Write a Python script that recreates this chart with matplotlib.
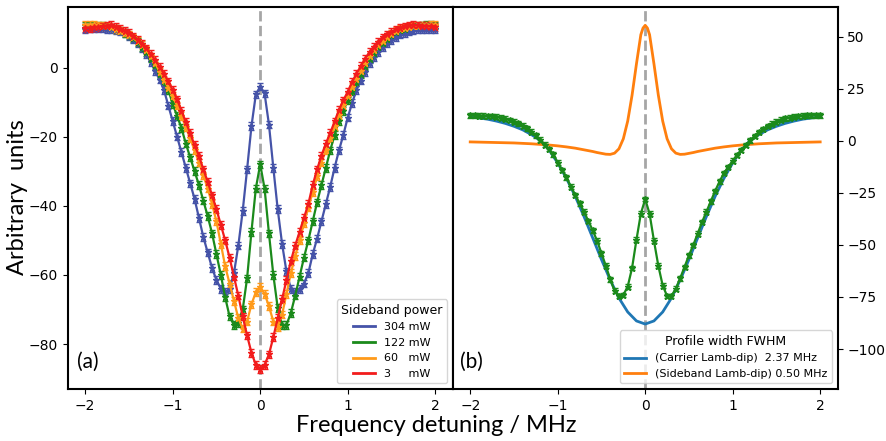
import numpy as np
import matplotlib
matplotlib.use("Agg")
import matplotlib.pyplot as plt
from matplotlib.lines import Line2D

# detuning grid of the measured points (MHz)
detuning = np.linspace(-2, 2, 81)

# measured Lamb-dip profiles for each sideband power (arb. units)
p304 = [11.2, 11.3, 11.3, 11.3, 11.3, 11.2, 11.0, 10.8, 10.4, 9.9,
        9.0, 8.1, 7.0, 5.6, 3.8, 1.5, -1.0, -3.5, -6.5, -11.0,
        -15.5, -20.0, -24.5, -29.0, -33.5, -38.0, -43.5, -49.0, -53.5, -58.0,
        -61.5, -64.0, -65.0, -64.0, -59.5, -51.5, -41.5, -29.5, -17.0, -7.8,
        -5.5,
        -7.5, -16.5, -29.0, -41.0, -51.0, -59.0, -64.0, -65.0, -64.0, -62.5,
        -59.5, -54.0, -49.5, -44.5, -39.5, -34.5, -29.0, -24.0, -19.5, -14.5,
        -10.3, -6.5, -3.8, -1.4, 1.2, 3.0, 4.5, 5.8, 7.0, 8.0,
        8.8, 9.5, 10.0, 10.4, 10.7, 11.0, 11.1, 11.2, 11.2, 11.2]
p122 = [12.2, 12.2, 12.1, 12.1, 12.0, 11.9, 11.6, 11.2, 10.7, 10.0,
        9.3, 8.4, 7.3, 6.0, 4.4, 2.6, 0.6, -1.8, -4.0, -6.5,
        -10.5, -14.0, -17.5, -22.0, -26.0, -30.0, -34.0, -38.5, -43.0, -48.0,
        -54.0, -60.0, -66.5, -72.0, -74.5, -74.0, -70.0, -61.0, -47.5, -35.0,
        -28.0,
        -35.0, -48.0, -60.0, -69.5, -74.5, -74.5, -71.0, -66.0, -60.5, -55.0,
        -50.0, -44.5, -39.0, -34.0, -29.0, -24.0, -19.5, -15.5, -12.5, -9.5,
        -6.8, -4.3, -2.0, 0.3, 2.4, 4.2, 5.8, 7.2, 8.3, 9.3,
        10.2, 10.8, 11.2, 11.6, 11.9, 12.1, 12.2, 12.3, 12.3, 12.2]
p60 = [12.3, 12.3, 12.3, 12.2, 12.1, 11.9, 11.6, 11.2, 10.7, 10.1,
       9.5, 8.7, 7.7, 6.5, 5.0, 3.2, 1.2, -1.2, -3.5, -5.8,
       -8.3, -11.0, -14.0, -17.3, -20.5, -24.0, -27.5, -31.2, -35.0, -39.5,
       -44.5, -51.0, -57.5, -62.5, -67.5, -72.5, -75.5, -73.5, -68.5, -65.0,
       -63.5,
       -65.5, -69.0, -73.5, -75.0, -71.5, -65.5, -59.5, -54.5, -50.0, -45.0,
       -40.5, -36.0, -31.5, -27.5, -24.0, -20.5, -17.0, -13.8, -10.8, -8.2,
       -5.6, -3.2, -1.0, 1.2, 3.2, 5.0, 6.5, 7.8, 8.9, 9.8,
       10.5, 11.1, 11.5, 11.8, 12.0, 12.1, 12.2, 12.2, 12.3, 12.4]
p3 = [11.5, 11.5, 11.6, 11.7, 11.9, 12.1, 12.3, 11.8, 11.2, 10.6,
      9.9, 9.0, 8.0, 6.9, 5.5, 3.9, 2.1, 0.2, -1.8, -4.0,
      -6.5, -9.2, -12.5, -15.8, -19.0, -22.5, -25.5, -29.5, -33.0, -37.0,
      -41.0, -45.5, -50.0, -55.0, -60.5, -66.0, -72.0, -77.5, -82.5, -86.0,
      -87.2,
      -86.0, -83.0, -78.0, -72.5, -67.0, -61.5, -56.0, -51.5, -47.5, -43.5,
      -39.5, -34.0, -29.5, -25.5, -22.0, -19.0, -15.6, -12.3, -9.5, -7.0,
      -4.2, -1.8, 0.4, 2.6, 4.5, 6.0, 7.5, 8.7, 9.6, 10.3,
      11.0, 11.5, 11.9, 12.2, 12.3, 12.2, 12.1, 12.0, 11.9, 11.8]
err = 1.1

# fitted profiles shown in panel (b)
fit_x = np.linspace(-2, 2, 41)
carrier_fit = [11.5, 11.0, 10.4, 9.5, 8.4, 7.0, 5.3, 3.0, 0.2, -4.3,
               -10.6, -18.0, -26.6, -36.3, -46.6, -57.0, -66.8, -75.5, -82.2, -86.5,
               -88.0,
               -86.5, -82.2, -75.5, -66.8, -57.0, -46.6, -36.3, -26.6, -18.0, -10.6,
               -4.3, 0.2, 3.0, 5.3, 7.0, 8.4, 9.5, 10.4, 11.0, 11.5]
side_x = [-2.0, -1.9, -1.8, -1.7, -1.6, -1.5, -1.4, -1.3, -1.2, -1.1, -1.0,
          -0.9, -0.8, -0.7, -0.6, -0.55, -0.5, -0.45, -0.4, -0.35, -0.3,
          -0.25, -0.2, -0.15, -0.1, -0.05, -0.025, 0.0, 0.025, 0.05, 0.1,
          0.15, 0.2, 0.25, 0.3, 0.35, 0.4, 0.45, 0.5, 0.55, 0.6, 0.7,
          0.8, 0.9, 1.0, 1.1, 1.2, 1.3, 1.4, 1.5, 1.6, 1.7, 1.8, 1.9, 2.0]
side_fit = [-0.5, -0.6, -0.7, -0.8, -0.9, -1.0, -1.2, -1.4, -1.7, -2.0, -2.4,
            -2.9, -3.5, -4.3, -5.1, -5.6, -6.0, -6.4, -6.5, -5.9, -3.8,
            1.0, 9.5, 22.0, 37.0, 51.0, 54.2, 55.5, 54.2, 51.0, 37.0,
            22.0, 9.5, 1.0, -3.8, -5.9, -6.5, -6.4, -6.0, -5.6, -5.1, -4.3,
            -3.5, -2.9, -2.4, -2.0, -1.7, -1.4, -1.2, -1.0, -0.9, -0.8, -0.7, -0.6, -0.5]

powers = ["304 mW", "122 mW", "60   mW", "3     mW"]
colors = ["#4553a8", "#1b8a1b", "#ff9a1a", "#f21c1c"]
fit_labels = ["(Carrier Lamb-dip)  2.37 MHz", "(Sideband Lamb-dip) 0.50 MHz"]

fig = plt.figure(figsize=(8.87, 4.41), dpi=100)
ax1 = fig.add_axes([0.0763, 0.1179, 0.4341, 0.8662])
ax2 = fig.add_axes([0.5104, 0.1179, 0.4340, 0.8662])

# panel (a)
for y, c in zip([p304, p122, p60, p3], colors):
    ax1.errorbar(detuning, y, yerr=err, fmt='-*', color=c, ms=5, lw=1.6,
                 elinewidth=1, capsize=2)
ax1.axvline(0, color='gray', ls='--', lw=2, alpha=0.7, zorder=0)
ax1.set_xlim(-2.2, 2.2)
ax1.set_ylim(-93, 17.5)
ax1.set_xticks([-2, -1, 0, 1, 2])
ax1.set_yticks([-80, -60, -40, -20, 0])
handles = [Line2D([], [], color=c, lw=2) for c in colors]
leg = ax1.legend(handles, powers, title="Sideband power", loc='lower right',
                 fontsize=8, title_fontsize=9)
ax1.text(0.025, 0.07, "(a)", transform=ax1.transAxes, fontsize=15,
         family='Lato', va='center')

# panel (b)
ax2.plot(fit_x, carrier_fit, color='#1f77b4', lw=2, zorder=2)
ax2.plot(side_x, side_fit, color='#ff7f0e', lw=2, zorder=2)
ax2.errorbar(detuning, p122, yerr=err, fmt='-*', color=colors[1], ms=5, lw=1.6,
             elinewidth=1, capsize=2, zorder=3)
ax2.axvline(0, color='gray', ls='--', lw=2, alpha=0.7, zorder=0)
ax2.set_xlim(-2.2, 2.2)
ax2.set_ylim(-119.2, 64.3)
ax2.set_xticks([-2, -1, 0, 1, 2])
ax2.set_yticks([-100, -75, -50, -25, 0, 25, 50])
ax2.yaxis.tick_right()
handles = [Line2D([], [], color='#1f77b4', lw=2), Line2D([], [], color='#ff7f0e', lw=2)]
ax2.legend(handles, fit_labels, title="Profile width FWHM", loc='lower right',
           fontsize=8, title_fontsize=9)
ax2.text(0.02, 0.07, "(b)", transform=ax2.transAxes, fontsize=15,
         family='Lato', va='center')

for ax in (ax1, ax2):
    ax.tick_params(labelsize=10)
    for s in ax.spines.values():
        s.set_linewidth(1.5)

fig.text(0.492, 0.036, "Frequency detuning / MHz", ha='center', va='center',
         fontsize=17, family='Lato')
fig.text(0.02, 0.553, "Arbitrary  units", ha='center', va='center',
         rotation=90, fontsize=17, family='Lato')

fig.savefig("out.png", dpi=100)
